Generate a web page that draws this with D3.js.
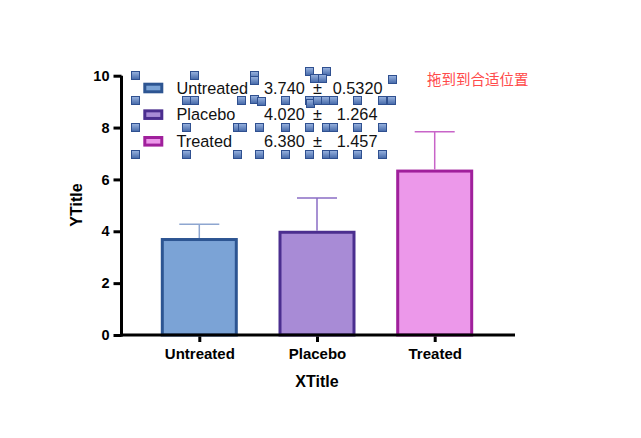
<!DOCTYPE html>
<html>
<head>
<meta charset="utf-8">
<script src="https://cdn.jsdelivr.net/npm/d3@7/dist/d3.min.js"></script>
<style>
  html, body { margin: 0; padding: 0; background: #fff; }
  svg { display: block; }
</style>
</head>
<body>
<svg id="chart" width="641" height="438"></svg>
<script>
// ---- data ----
const categories = ["Untreated", "Placebo", "Treated"];
const means = [3.740, 4.020, 6.380];
const sds = [0.5320, 1.264, 1.457];
const meanLabels = ["3.740", "4.020", "6.380"];
const sdLabels = ["0.5320", "1.264", "1.457"];
const yTicks = [0, 2, 4, 6, 8, 10];
const xTitle = "XTitle";
const yTitle = "YTitle";
const note = "拖到到合适位置";

// selection handles scattered over the legend (decoration, screen px)
const handles = [
  [131,71],[190,71],[250,71],[250,76],[305,67],[322,67],[310,74],[318,74],[388,75],
  [131,96],[182,96],[190,96],[237,96],[250,95],[257,97],[281,96],[305,96],[306,99],[313,96],[321,96],[329,96],[353,96],[378,96],[387,96],
  [131,123],[182,123],[233,123],[238,123],[255,123],[281,123],[305,123],[322,123],[329,123],[353,123],[378,123],
  [131,150],[182,150],[233,150],[255,150],[281,150],[305,150],[322,150],[329,150],[353,150],[378,150]
];

// ---- styles ----
const fills = ["#7ba3d6", "#a88bd6", "#ec98ea"];
const strokes = ["#2d5592", "#4b2e8f", "#a0209c"];
const errColors = ["#8ea6d0", "#8a6cc4", "#c864c8"];
const font = "'Liberation Sans', Arial, Helvetica, sans-serif";

const svg = d3.select("#chart");

const y = d3.scaleLinear().domain([0, 10]).range([335, 75.7]);
const x = d3.scalePoint().domain(categories).range([199.3, 434.7]);
const barW = 74;
const capW = 40;

// bars
svg.append("g").selectAll("rect").data(categories).join("rect")
  .attr("x", d => x(d) - barW / 2)
  .attr("width", barW)
  .attr("y", (d, i) => y(means[i]) + 1.5)
  .attr("height", (d, i) => y(0) - y(means[i]) - 1.5)
  .attr("fill", (d, i) => fills[i])
  .attr("stroke", (d, i) => strokes[i])
  .attr("stroke-width", 3);

// error bars (upper only)
const eg = svg.append("g");
categories.forEach((c, i) => {
  const top = y(means[i] + sds[i]);
  eg.append("line")
    .attr("x1", x(c)).attr("x2", x(c))
    .attr("y1", y(means[i])).attr("y2", top)
    .attr("stroke", errColors[i]).attr("stroke-width", 1.5);
  eg.append("line")
    .attr("x1", x(c) - capW / 2).attr("x2", x(c) + capW / 2)
    .attr("y1", top).attr("y2", top)
    .attr("stroke", errColors[i]).attr("stroke-width", 1.5);
});

// y axis
const yAxis = svg.append("g")
  .attr("transform", "translate(121.5,0)")
  .call(d3.axisLeft(y).tickValues(yTicks).tickSize(8).tickPadding(4).tickFormat(d3.format("d")));
yAxis.select(".domain").attr("stroke", "#000").attr("stroke-width", 3)
  .attr("d", `M0,${y(10)}V${y(0) + 1.5}`);
yAxis.selectAll(".tick line").attr("stroke", "#000").attr("stroke-width", 3);
yAxis.selectAll(".tick text")
  .attr("font-family", font).attr("font-size", 14.5).attr("font-weight", "bold").attr("fill", "#000");

// x axis
const xAxis = svg.append("g")
  .attr("transform", `translate(0,${y(0)})`)
  .call(d3.axisBottom(x).tickSize(7).tickPadding(6.5));
xAxis.select(".domain").attr("stroke", "#000").attr("stroke-width", 3)
  .attr("d", "M120,0H515");
xAxis.selectAll(".tick line").attr("stroke", "#000").attr("stroke-width", 3).attr("y1", 1.5);
xAxis.selectAll(".tick text")
  .attr("font-family", font).attr("font-size", 15).attr("font-weight", "bold").attr("fill", "#000");

// titles
svg.append("text")
  .attr("x", 317).attr("y", 386.5)
  .attr("text-anchor", "middle")
  .attr("font-family", font).attr("font-size", 16).attr("font-weight", "bold")
  .text(xTitle);
svg.append("text")
  .attr("transform", "translate(82,205) rotate(-90)")
  .attr("text-anchor", "middle")
  .attr("font-family", font).attr("font-size", 16).attr("font-weight", "bold")
  .text(yTitle);

// legend
const leg = svg.append("g");
const rowY = d3.scalePoint().domain(categories).range([88, 141.3]);
categories.forEach((c, i) => {
  const ry = rowY(c);
  leg.append("rect")
    .attr("x", 144.8).attr("y", ry - 3.8).attr("width", 17).attr("height", 7.6)
    .attr("fill", fills[i]).attr("stroke", strokes[i]).attr("stroke-width", 3);
  leg.append("text")
    .attr("x", 176.5).attr("y", ry + 5.8)
    .attr("font-family", font).attr("font-size", 16.3).attr("fill", "#111")
    .text(c);
  leg.append("text")
    .attr("x", 264).attr("y", ry + 5.8)
    .attr("font-family", font).attr("font-size", 16.3).attr("fill", "#111")
    .text(meanLabels[i]);
  leg.append("text")
    .attr("x", 313).attr("y", ry + 5.8)
    .attr("font-family", font).attr("font-size", 16.3).attr("fill", "#111")
    .text("±");
  leg.append("text")
    .attr("x", i === 0 ? 332.7 : 336.7).attr("y", ry + 5.8)
    .attr("font-family", font).attr("font-size", 16.3).attr("fill", "#111")
    .text(sdLabels[i]);
});

// handles
const defs = svg.append("defs");
const grad = defs.append("linearGradient").attr("id", "hg")
  .attr("x1", 0).attr("y1", 0).attr("x2", 0).attr("y2", 1);
grad.append("stop").attr("offset", "0%").attr("stop-color", "#9ab4e0");
grad.append("stop").attr("offset", "100%").attr("stop-color", "#4468a8");
svg.append("g").selectAll("rect").data(handles).join("rect")
  .attr("x", d => d[0] + 0.5).attr("y", d => d[1] + 0.5)
  .attr("width", 8).attr("height", 8)
  .attr("fill", "url(#hg)").attr("stroke", "#2f5090").attr("stroke-width", 1);

// note
svg.append("text")
  .attr("x", 427).attr("y", 84.5)
  .attr("font-family", "'Noto Sans CJK SC', sans-serif").attr("font-size", 14.5)
  .attr("fill", "#ff4a4a")
  .text(note);
</script>
</body>
</html>
